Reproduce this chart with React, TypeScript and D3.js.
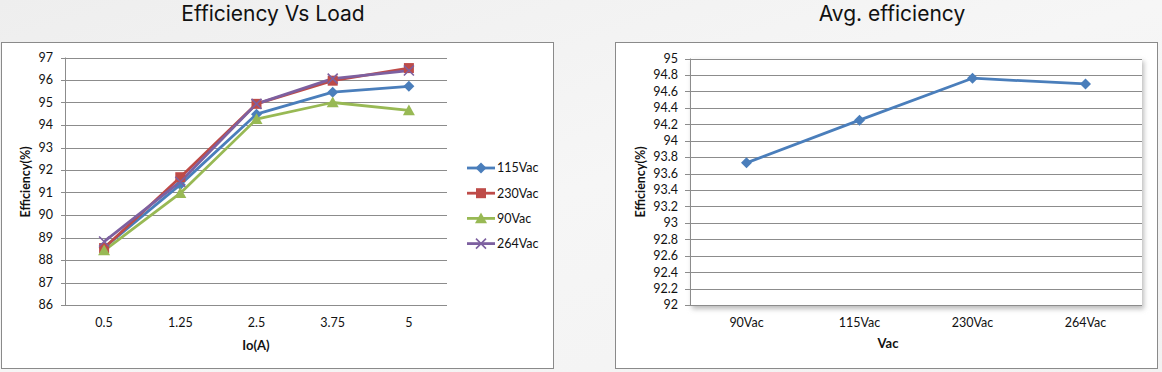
import React from "react";
import * as d3 from "d3";

// ---------- data ----------
const loadCategories = ["0.5", "1.25", "2.5", "3.75", "5"];
const eff115 = [88.55, 91.35, 94.48, 95.46, 95.72];
const eff230 = [88.53, 91.68, 94.94, 95.97, 96.53];
const eff90 = [88.42, 90.97, 94.26, 95.0, 94.65];
const eff264 = [88.82, 91.48, 94.94, 96.06, 96.42];
const leftTicks = [86, 87, 88, 89, 90, 91, 92, 93, 94, 95, 96, 97];

const vacCategories = ["90Vac", "115Vac", "230Vac", "264Vac"];
const avgEff = [93.73, 94.25, 94.76, 94.69];
const rightTicks = [92, 92.2, 92.4, 92.6, 92.8, 93, 93.2, 93.4, 93.6, 93.8, 94, 94.2, 94.4, 94.6, 94.8, 95];

const seriesNames = ["115Vac", "230Vac", "90Vac", "264Vac"];
const seriesColors = ["#4a7ebb", "#be4b48", "#98b954", "#7d60a0"];
const seriesMarkers = ["diamond", "square", "triangle", "x"];
const seriesData = [eff115, eff230, eff90, eff264];

const FONT = "Lato, 'Open Sans', sans-serif";
const TITLE_FONT = "Inter, Roboto, sans-serif";

function Marker({ type, x, y, color }: { type: string; x: number; y: number; color: string }) {
  if (type === "diamond") {
    const s = 5.5;
    return <path d={`M${x},${y - s}L${x + s},${y}L${x},${y + s}L${x - s},${y}Z`} fill={color} />;
  }
  if (type === "square") {
    const s = 5;
    return <rect x={x - s} y={y - s} width={2 * s} height={2 * s} fill={color} />;
  }
  if (type === "triangle") {
    const s = 6;
    return <path d={`M${x},${y - s}L${x + s},${y + s * 0.8}L${x - s},${y + s * 0.8}Z`} fill={color} />;
  }
  const s = 5;
  return (
    <path d={`M${x - s},${y - s}L${x + s},${y + s}M${x + s},${y - s}L${x - s},${y + s}`} stroke={color} strokeWidth={1.6} fill="none" />
  );
}

function LeftChart() {
  const x = d3.scalePoint<string>().domain(loadCategories).range([66, 447]).padding(0.5);
  const y = d3.scaleLinear().domain([86, 97]).range([305, 57.5]);
  const line = d3
    .line<number>()
    .x((_, i) => x(loadCategories[i]) as number)
    .y((d) => y(d));
  return (
    <g>
      <rect x={1.5} y={42.5} width={552} height={326} fill="#fff" stroke="#8a8a8a" strokeWidth={1} />
      {leftTicks.map((t) => (
        <g key={t}>
          <line x1={61} x2={447} y1={Math.round(y(t)) + 0.5} y2={Math.round(y(t)) + 0.5} stroke="#8c8c8c" strokeWidth={1} />
          <text x={53} y={y(t)} dy="0.35em" textAnchor="end" fontSize={12.5} fontFamily={FONT} fill="#111">
            {t}
          </text>
        </g>
      ))}
      <line x1={65.5} x2={65.5} y1={y(97)} y2={y(86)} stroke="#8c8c8c" strokeWidth={1} />
      {loadCategories.map((c) => (
        <text key={c} x={x(c)} y={323} dy="0.35em" textAnchor="middle" fontSize={12.5} fontFamily={FONT} fill="#111">
          {c}
        </text>
      ))}
      {seriesData.map((d, si) => (
        <path key={si} d={line(d) as string} fill="none" stroke={seriesColors[si]} strokeWidth={2.8} strokeLinejoin="round" />
      ))}
      {seriesData.map((d, si) =>
        d.map((v, i) => <Marker key={`${si}-${i}`} type={seriesMarkers[si]} x={x(loadCategories[i]) as number} y={y(v)} color={seriesColors[si]} />)
      )}
      {seriesNames.map((n, i) => {
        const ly = 168 + i * 25.2;
        return (
          <g key={n}>
            <line x1={467} x2={495} y1={ly} y2={ly} stroke={seriesColors[i]} strokeWidth={2.8} />
            <Marker type={seriesMarkers[i]} x={481} y={ly} color={seriesColors[i]} />
            <text x={497} y={ly} dy="0.35em" fontSize={12.5} fontFamily={FONT} fill="#111">
              {n}
            </text>
          </g>
        );
      })}
      <text x={256} y={345} dy="0.35em" textAnchor="middle" fontSize={13} fontWeight="bold" fontFamily={FONT} fill="#111">
        Io(A)
      </text>
      <text transform={`translate(26,182) rotate(-90)`} dy="0.35em" textAnchor="middle" fontSize={12.5} fontWeight="bold" fontFamily={FONT} fill="#111">
        Efficiency(%)
      </text>
      <text x={273} y={14} dy="0.35em" textAnchor="middle" fontSize={21} fontFamily={TITLE_FONT} fill="#111">
        Efficiency Vs Load
      </text>
    </g>
  );
}

function RightChart() {
  const x = d3.scalePoint<string>().domain(vacCategories).range([690, 1142]).padding(0.5);
  const y = d3.scaleLinear().domain([92, 95]).range([305, 58.5]);
  const line = d3
    .line<number>()
    .x((_, i) => x(vacCategories[i]) as number)
    .y((d) => y(d));
  return (
    <g>
      <defs>
        <filter id="shadow" x="-5%" y="-5%" width="110%" height="115%">
          <feGaussianBlur stdDeviation="2.5" />
        </filter>
      </defs>
      <rect x={615.5} y={42.5} width={542} height={326} fill="#fff" stroke="#8a8a8a" strokeWidth={1} />
      <rect x={692} y={61} width={452} height={248} fill="#bbb" filter="url(#shadow)" />
      <rect x={690} y={y(95)} width={452} height={y(92) - y(95)} fill="#fff" />
      {rightTicks.map((t) => (
        <g key={t}>
          <line x1={685} x2={1142} y1={Math.round(y(t)) + 0.5} y2={Math.round(y(t)) + 0.5} stroke="#8c8c8c" strokeWidth={1} />
          <text x={678} y={y(t)} dy="0.35em" textAnchor="end" fontSize={12.5} fontFamily={FONT} fill="#111">
            {t}
          </text>
        </g>
      ))}
      <line x1={690.5} x2={690.5} y1={y(95)} y2={y(92)} stroke="#8c8c8c" strokeWidth={1} />
      {vacCategories.map((c) => (
        <text key={c} x={x(c)} y={323} dy="0.35em" textAnchor="middle" fontSize={12.5} fontFamily={FONT} fill="#111">
          {c}
        </text>
      ))}
      <path d={line(avgEff) as string} fill="none" stroke={seriesColors[0]} strokeWidth={2.8} strokeLinejoin="round" />
      {avgEff.map((v, i) => (
        <Marker key={i} type="diamond" x={x(vacCategories[i]) as number} y={y(v)} color={seriesColors[0]} />
      ))}
      <text x={888} y={343} dy="0.35em" textAnchor="middle" fontSize={13} fontWeight="bold" fontFamily={FONT} fill="#111">
        Vac
      </text>
      <text transform={`translate(641,182) rotate(-90)`} dy="0.35em" textAnchor="middle" fontSize={12.5} fontWeight="bold" fontFamily={FONT} fill="#111">
        Efficiency(%)
      </text>
      <text x={892} y={14} dy="0.35em" textAnchor="middle" fontSize={21} fontFamily={TITLE_FONT} fill="#111">
        Avg. efficiency
      </text>
    </g>
  );
}

export default function App() {
  return (
    <svg width={1162} height={372} style={{ position: "absolute", left: 0, top: 0, display: "block" }}>
      <defs>
        <linearGradient id="bg" x1="0" y1="0" x2="1" y2="1">
          <stop offset="0" stopColor="#eeeeee" />
          <stop offset="0.5" stopColor="#f6f6f6" />
          <stop offset="1" stopColor="#f2f2f2" />
        </linearGradient>
      </defs>
      <rect x={0} y={0} width={1162} height={372} fill="url(#bg)" />
      <LeftChart />
      <RightChart />
    </svg>
  );
}
